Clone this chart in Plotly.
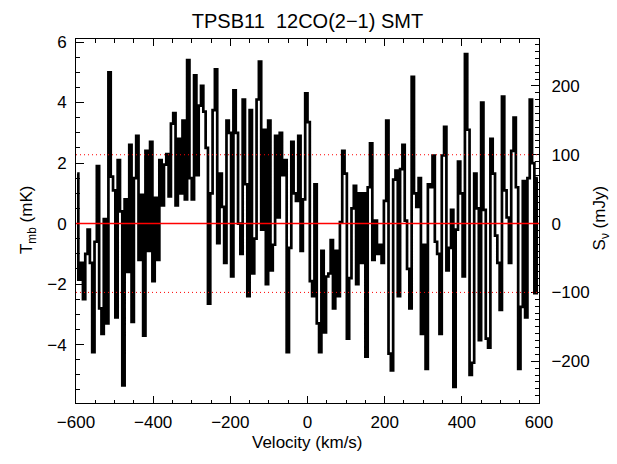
import plotly.graph_objects as go

# ---------------- data ----------------
vel_start = -600.0          # km/s, left edge of first channel
chan_width = 6.0            # km/s
tmb_mK = [
    1.65, -1.85, -1.3, -2.5, -1.0, -0.2, -1.3, -4.25, -0.6, 1.9,
    -2.8, -3.65, 0.15, -3.3, 5.0, 1.55, 1.1, -3.1, 2.1, 0.4,
    -5.35, 0.8, -1.6, 2.6, -3.25, 1.5, 2.9, -1.2, 0.95, -3.7,
    2.4, -0.9, 2.7, -1.9, 0.85, -1.2, 2.1, 0.6, 1.95, 2.3,
    0.9, 3.3, 3.65, 0.6, 2.8,
    1.0, 3.4, 0.8, 5.4, 1.5, 0.8, 4.9, 1.6, 3.9, 4.55,
    3.7, 2.5, -2.65, 1.0, 3.75, 5.1, -0.65, 1.65, 0.55, -1.3,
    3.4, 3.0, -1.75, 4.4, 3.0, 0.0, -1.0, 4.1, 1.3, -2.4,
    3.75, -1.65, -0.5, 4.1, 5.35, -0.2, 3.1, -2.0, 3.4, -1.55,
    -0.7, 2.9, 0.2, 3.0, 1.6, 2.1, -4.25, -0.8,
    2.7, 1.0, 0.75, 2.9, -0.9, 0.8, 4.3, 3.35, -1.9, -2.4,
    1.3, -3.3, -4.25, -0.9, -3.6, -1.75, -1.65, -0.55, -2.8, -0.9,
    -2.4, 0.05, 2.4, 1.65, -3.8, -1.8, 0.5, 1.25, -2.0, 1.0,
    -1.3, 1.0, -4.4, 1.2, 2.65, -1.2, 0.1, -1.0, -0.7, -1.3,
    0.75, 3.4, -4.3, -4.85, 1.45, 1.75, -2.4, 1.8, 2.6, 0.1,
    -1.5,
    -2.8, 4.85, 1.0, 0.55, 1.5, -3.65, -0.7, -4.8, 1.3, 1.2,
    2.25, -0.6, -1.0, -3.65, 2.25, 3.2, -1.55, -0.8, 0.45, -5.4,
    -0.2, 2.05, 1.0, -1.75, 5.6, 3.1, -5.0, -4.6, 1.65, 0.5,
    -3.85, 4.0, 0.45, -3.8, -4.1, 2.8, 1.65, -0.4, -1.3, -2.85,
    4.2, 1.1, 0.2, -1.3, 2.4, 3.5, 1.2, -4.8, -2.75, 1.4,
    -3.1, 1.5, 4.1, 2.0, -2.3, 1.5,
]
velocity = [vel_start + chan_width * (i + 0.5) for i in range(len(tmb_mK))]

title_text = "TPSB11  12CO(2\u22121) SMT"
x_ticks = [-600, -400, -200, 0, 200, 400, 600]
y_ticks = [-4, -2, 0, 2, 4, 6]
s_ticks = [-200, -100, 0, 100, 200]
mjy_per_mk = 43.96
dotted_level_mjy = 100.0
x_range = [-600, 600]
y_range = [-5.93, 6.1]

# ---------------- figure ----------------
FONT = "Liberation Sans"
fig = go.Figure()
fig.add_trace(go.Scatter(
    x=velocity, y=tmb_mK, mode="lines", line_shape="hvh",
    line=dict(color="black", width=2.7), showlegend=False, hoverinfo="skip"))
fig.add_trace(go.Scatter(x=[None], y=[None], yaxis="y2", showlegend=False,
                         hoverinfo="skip"))

lev = dotted_level_mjy / mjy_per_mk
fig.add_shape(type="line", x0=x_range[0], x1=x_range[1], y0=0, y1=0,
              xref="x", yref="y", layer="above",
              line=dict(color="#ff0000", width=1.4))
for yv in (lev, -lev):
    fig.add_shape(type="line", x0=x_range[0], x1=x_range[1], y0=yv, y1=yv,
                  xref="x", yref="y", layer="above",
                  line=dict(color="#ff0000", width=1, dash="1px,3px"))

tickfont = dict(family=FONT, size=17, color="black")
fig.update_layout(
    width=617, height=464,
    margin=dict(l=76, r=77.5, t=39.3, b=61.3),
    paper_bgcolor="white", plot_bgcolor="white",
    title=dict(text=title_text, x=0.5, xref="paper", y=1 - 21 / 464,
               yanchor="middle", xanchor="center",
               font=dict(family=FONT, size=20, color="black")),
    xaxis=dict(range=x_range, tickmode="array", tickvals=x_ticks,
               ticks="inside", ticklen=7, tickwidth=1, tickcolor="black",
               minor=dict(dtick=50, tick0=0, ticks="inside", ticklen=3.5,
                          tickcolor="black", tickwidth=1),
               showline=True, linecolor="black", linewidth=1, mirror="ticks",
               showgrid=False, zeroline=False, tickfont=tickfont,
               ticklabelstandoff=4),
    yaxis=dict(range=y_range, tickmode="array", tickvals=y_ticks,
               ticks="inside", ticklen=8, tickwidth=1, tickcolor="black",
               minor=dict(dtick=0.5, tick0=0, ticks="inside", ticklen=4,
                          tickcolor="black", tickwidth=1),
               showline=True, linecolor="black", linewidth=1, mirror=False,
               showgrid=False, zeroline=False, tickfont=tickfont,
               ticklabelstandoff=5),
    yaxis2=dict(range=[y_range[0] * mjy_per_mk, y_range[1] * mjy_per_mk],
                overlaying="y", side="right", tickmode="array",
                tickvals=s_ticks,
                ticks="inside", ticklen=8, tickwidth=1, tickcolor="black",
                minor=dict(dtick=10, tick0=0, ticks="inside", ticklen=4,
                           tickcolor="black", tickwidth=1),
                showline=True, linecolor="black", linewidth=1,
                showgrid=False, zeroline=False, tickfont=tickfont,
                ticklabelstandoff=8),
    annotations=[
        dict(text="Velocity (km/s)", xref="paper", yref="paper",
             x=0.5, y=(402.7 - 442) / 363.4, showarrow=False,
             xanchor="center", yanchor="middle",
             font=dict(family=FONT, size=17, color="black")),
        dict(text="T<sub>mb</sub> (mK)", xref="paper", yref="paper",
             x=(28 - 76) / 463.5, y=(402.7 - 220) / 363.4, showarrow=False,
             textangle=-90, xanchor="center", yanchor="middle",
             font=dict(family=FONT, size=17, color="black")),
        dict(text="S<sub>\u03bd</sub> (mJy)", xref="paper", yref="paper",
             x=(602 - 76) / 463.5, y=(402.7 - 218) / 363.4, showarrow=False,
             textangle=-90, xanchor="center", yanchor="middle",
             font=dict(family=FONT, size=17, color="black")),
    ],
)

fig.write_html("out.html")
